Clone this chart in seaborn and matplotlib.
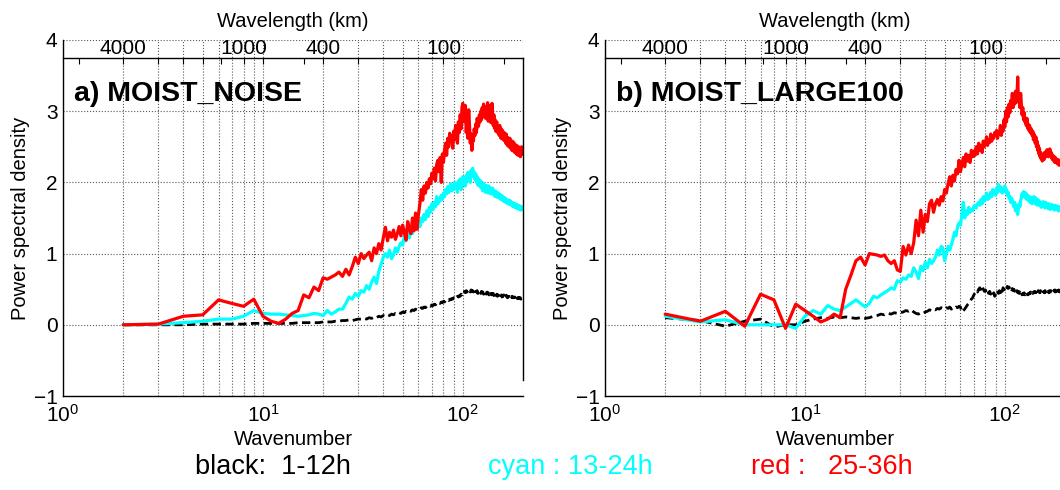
import matplotlib
matplotlib.use("Agg")
import matplotlib.pyplot as plt
import seaborn as sns
from matplotlib.ticker import FixedLocator, FixedFormatter, NullFormatter

# wavenumber 2..200
wavenumber = list(range(2, 201))

# a) MOIST_NOISE
a_black = [0.00, 0.00, 0.00, 0.01, 0.01, 0.01, 0.01, 0.02, 0.02,
           0.02, 0.02, 0.02, 0.02, 0.03, 0.03, 0.03, 0.03, 0.03, 0.04,
           0.04, 0.04, 0.05, 0.05, 0.06, 0.06, 0.07, 0.06, 0.07, 0.08,
           0.08, 0.09, 0.08, 0.10, 0.09, 0.11, 0.10, 0.12, 0.11, 0.13,
           0.12, 0.14, 0.13, 0.15, 0.14, 0.16, 0.15, 0.17, 0.16, 0.18,
           0.17, 0.19, 0.18, 0.20, 0.19, 0.21, 0.20, 0.22, 0.21, 0.23,
           0.22, 0.24, 0.23, 0.25, 0.24, 0.26, 0.25, 0.27, 0.26, 0.28,
           0.27, 0.29, 0.28, 0.30, 0.29, 0.31, 0.30, 0.32, 0.31, 0.33,
           0.32, 0.34, 0.33, 0.35, 0.34, 0.36, 0.35, 0.37, 0.36, 0.38,
           0.37, 0.39, 0.38, 0.40, 0.39, 0.41, 0.40, 0.43, 0.42, 0.45,
           0.44, 0.47, 0.45, 0.48, 0.46, 0.49, 0.47, 0.48, 0.46, 0.49,
           0.47, 0.48, 0.46, 0.49, 0.45, 0.47, 0.46, 0.48, 0.44, 0.47,
           0.45, 0.46, 0.44, 0.47, 0.45, 0.46, 0.43, 0.46, 0.44, 0.45,
           0.43, 0.46, 0.44, 0.45, 0.42, 0.45, 0.43, 0.44, 0.42, 0.44,
           0.43, 0.44, 0.41, 0.43, 0.42, 0.44, 0.41, 0.43, 0.40, 0.42,
           0.41, 0.43, 0.40, 0.42, 0.41, 0.42, 0.39, 0.41, 0.40, 0.42,
           0.40, 0.41, 0.39, 0.41, 0.40, 0.41, 0.38, 0.40, 0.39, 0.40,
           0.39, 0.40, 0.38, 0.40, 0.39, 0.40, 0.38, 0.39, 0.38, 0.39,
           0.38, 0.39, 0.37, 0.39, 0.38, 0.39, 0.37, 0.38, 0.37, 0.38,
           0.37, 0.38, 0.37, 0.38, 0.36, 0.38, 0.37, 0.37, 0.36, 0.37]
a_cyan = [0.00, 0.01, 0.03, 0.05, 0.08, 0.08, 0.12, 0.20, 0.16,
          0.15, 0.15, 0.14, 0.13, 0.12, 0.13, 0.14, 0.16, 0.15, 0.13,
          0.20, 0.15, 0.18, 0.22, 0.22, 0.30, 0.39, 0.36, 0.44, 0.40,
          0.48, 0.46, 0.55, 0.50, 0.60, 0.67, 0.58, 0.75, 0.85, 0.95,
          1.00, 0.95, 1.05, 0.93, 0.98, 1.08, 1.02, 1.10, 1.15, 1.12,
          1.25, 1.18, 1.30, 1.22, 1.35, 1.28, 1.43, 1.36, 1.40, 1.46,
          1.38, 1.50, 1.45, 1.55, 1.48, 1.60, 1.52, 1.65, 1.58, 1.70,
          1.62, 1.72, 1.66, 1.80, 1.70, 1.78, 1.74, 1.82, 1.76, 1.85,
          1.80, 1.90, 1.84, 1.94, 1.86, 1.92, 1.98, 1.88, 1.95, 1.90,
          2.00, 1.92, 1.98, 1.86, 2.02, 1.95, 2.05, 1.90, 2.00, 2.08,
          1.98, 2.06, 1.95, 2.10, 2.02, 2.14, 2.05, 2.12, 2.00, 2.17,
          2.10, 2.20, 2.08, 2.15, 2.04, 2.12, 2.00, 2.08, 1.96, 2.05,
          2.00, 1.94, 2.02, 1.92, 2.00, 1.88, 1.98, 1.90, 1.95, 1.86,
          1.96, 1.88, 1.93, 1.85, 1.95, 1.88, 1.92, 1.84, 1.90, 1.86,
          1.92, 1.83, 1.88, 1.85, 1.80, 1.88, 1.82, 1.86, 1.79, 1.84,
          1.85, 1.78, 1.83, 1.80, 1.76, 1.82, 1.78, 1.80, 1.74, 1.79,
          1.77, 1.73, 1.78, 1.75, 1.71, 1.76, 1.72, 1.74, 1.70, 1.75,
          1.73, 1.69, 1.74, 1.71, 1.68, 1.72, 1.67, 1.70, 1.66, 1.71,
          1.69, 1.65, 1.70, 1.67, 1.64, 1.69, 1.66, 1.68, 1.63, 1.67,
          1.66, 1.62, 1.67, 1.64, 1.61, 1.66, 1.63, 1.65, 1.62, 1.64]
a_red = [0.00, 0.01, 0.12, 0.14, 0.35, 0.30, 0.26, 0.36, 0.12,
         0.05, 0.02, 0.08, 0.16, 0.20, 0.42, 0.38, 0.53, 0.48, 0.66,
         0.64, 0.67, 0.70, 0.74, 0.68, 0.78, 0.70, 0.82, 0.95, 0.86,
         1.00, 0.93, 0.98, 1.02, 0.90, 1.08, 1.00, 1.14, 1.05, 1.22,
         1.37, 1.18, 1.30, 1.23, 1.33, 1.20, 1.28, 1.38, 1.25, 1.40,
         1.30, 1.19, 1.45, 1.35, 1.28, 1.50, 1.32, 1.57, 1.34, 1.55,
         1.70, 1.90, 1.75, 1.95, 1.85, 2.00, 1.92, 2.05, 1.98, 2.13,
         2.05, 2.20, 2.02, 2.25, 2.31, 2.15, 2.35, 2.00, 2.40, 2.28,
         2.45, 2.55, 2.38, 2.62, 2.50, 2.69, 2.58, 2.65, 2.48, 2.72,
         2.60, 2.80, 2.68, 2.55, 2.85, 2.70, 2.95, 2.75, 3.05, 3.11,
         2.85, 2.98, 3.08, 2.70, 2.90, 2.62, 3.02, 2.80, 2.55, 2.68,
         2.45, 2.62, 2.58, 2.75, 2.66, 2.82, 2.70, 2.90, 2.78, 2.80,
         2.95, 2.85, 3.00, 2.88, 3.05, 2.92, 3.10, 2.96, 3.06, 2.90,
         3.06, 2.95, 3.12, 2.86, 3.00, 2.92, 3.08, 2.84, 2.98, 3.11,
         2.90, 2.80, 2.95, 2.76, 2.88, 2.72, 2.82, 2.85, 2.70, 2.78,
         2.74, 2.66, 2.80, 2.70, 2.62, 2.75, 2.68, 2.73, 2.60, 2.66,
         2.70, 2.58, 2.64, 2.55, 2.68, 2.60, 2.52, 2.63, 2.58, 2.50,
         2.55, 2.62, 2.48, 2.57, 2.52, 2.45, 2.58, 2.50, 2.44, 2.56,
         2.49, 2.42, 2.53, 2.46, 2.40, 2.52, 2.44, 2.48, 2.38, 2.50,
         2.45, 2.40, 2.47, 2.36, 2.44, 2.41, 2.50, 2.39, 2.45, 2.40]

# b) MOIST_LARGE100
b_black = [0.10, 0.06, -0.02, 0.05, 0.08, -0.03, 0.00, 0.00, 0.05,
           0.08, 0.10, 0.09, 0.11, 0.10, 0.11, 0.10, 0.09, 0.10, 0.09,
           0.10, 0.12, 0.13, 0.15, 0.14, 0.16, 0.15, 0.17, 0.16, 0.17,
           0.18, 0.20, 0.19, 0.21, 0.18, 0.16, 0.15, 0.17, 0.16, 0.18,
           0.19, 0.21, 0.20, 0.22, 0.21, 0.23, 0.22, 0.24, 0.23, 0.22,
           0.24, 0.23, 0.25, 0.22, 0.24, 0.23, 0.25, 0.24, 0.26, 0.25,
           0.18, 0.20, 0.22, 0.25, 0.28, 0.30, 0.33, 0.36, 0.38, 0.42,
           0.45, 0.48, 0.46, 0.50, 0.52, 0.48, 0.53, 0.50, 0.47, 0.49,
           0.45, 0.48, 0.44, 0.47, 0.43, 0.46, 0.42, 0.45, 0.40, 0.44,
           0.42, 0.46, 0.44, 0.48, 0.45, 0.50, 0.47, 0.52, 0.49, 0.51,
           0.53, 0.50, 0.54, 0.51, 0.53, 0.50, 0.52, 0.49, 0.51, 0.48,
           0.50, 0.47, 0.49, 0.46, 0.48, 0.45, 0.47, 0.44, 0.46, 0.43,
           0.45, 0.42, 0.44, 0.43, 0.45, 0.42, 0.44, 0.43, 0.45, 0.42,
           0.44, 0.43, 0.45, 0.44, 0.46, 0.43, 0.45, 0.44, 0.46, 0.45,
           0.47, 0.45, 0.46, 0.44, 0.47, 0.45, 0.48, 0.46, 0.47, 0.45,
           0.48, 0.46, 0.47, 0.46, 0.48, 0.46, 0.47, 0.45, 0.48, 0.46,
           0.47, 0.46, 0.48, 0.46, 0.47, 0.45, 0.48, 0.47, 0.46, 0.48,
           0.47, 0.46, 0.48, 0.47, 0.46, 0.48, 0.47, 0.49, 0.46, 0.48,
           0.47, 0.49, 0.46, 0.48, 0.47, 0.49, 0.47, 0.48, 0.46, 0.48,
           0.47, 0.49, 0.47, 0.48, 0.46, 0.48, 0.47, 0.49, 0.47, 0.48]
b_cyan = [0.12, 0.04, 0.07, 0.00, 0.00, 0.00, 0.00, -0.05, 0.12,
          0.20, 0.15, 0.27, 0.22, 0.20, 0.25, 0.30, 0.35, 0.30, 0.25,
          0.30, 0.40, 0.38, 0.42, 0.45, 0.48, 0.52, 0.50, 0.62, 0.60,
          0.66, 0.64, 0.70, 0.68, 0.80, 0.74, 0.65, 0.82, 0.76, 0.88,
          0.80, 0.92, 0.86, 0.90, 0.95, 1.05, 0.98, 1.10, 1.08, 0.90,
          1.00, 1.10, 1.05, 1.12, 1.20, 1.30, 1.25, 1.38, 1.43, 1.40,
          1.55, 1.72, 1.50, 1.60, 1.55, 1.65, 1.58, 1.62, 1.60, 1.66,
          1.68, 1.64, 1.70, 1.72, 1.68, 1.76, 1.70, 1.80, 1.74, 1.78,
          1.85, 1.76, 1.82, 1.78, 1.86, 1.80, 1.90, 1.84, 1.88, 1.82,
          1.92, 1.86, 1.97, 1.88, 1.94, 1.90, 1.85, 1.92, 1.88, 1.95,
          1.86, 1.90, 1.82, 1.86, 1.78, 1.80, 1.72, 1.78, 1.75, 1.70,
          1.66, 1.72, 1.60, 1.68, 1.62, 1.55, 1.64, 1.70, 1.66, 1.75,
          1.78, 1.84, 1.80, 1.87, 1.82, 1.86, 1.78, 1.84, 1.76, 1.82,
          1.78, 1.74, 1.80, 1.72, 1.79, 1.75, 1.70, 1.78, 1.73, 1.80,
          1.76, 1.70, 1.78, 1.74, 1.68, 1.76, 1.71, 1.74, 1.68, 1.72,
          1.70, 1.65, 1.72, 1.68, 1.66, 1.73, 1.67, 1.70, 1.64, 1.72,
          1.68, 1.70, 1.65, 1.69, 1.63, 1.70, 1.66, 1.68, 1.62, 1.67,
          1.65, 1.69, 1.63, 1.67, 1.64, 1.66, 1.61, 1.68, 1.64, 1.66,
          1.63, 1.67, 1.62, 1.65, 1.60, 1.66, 1.62, 1.64, 1.61, 1.65,
          1.62, 1.64, 1.60, 1.63, 1.61, 1.64, 1.60, 1.62, 1.59, 1.62]
b_red = [0.15, 0.05, 0.19, -0.02, 0.43, 0.35, -0.05, 0.29, 0.20,
         0.12, 0.04, 0.08, 0.15, 0.10, 0.50, 0.70, 0.90, 0.95, 0.84,
         1.00, 0.99, 0.98, 0.96, 0.98, 0.90, 0.86, 0.90, 0.77, 0.75,
         1.10, 0.98, 1.12, 1.00, 1.15, 1.47, 1.25, 1.61, 1.30, 1.55,
         1.45, 1.70, 1.75, 1.58, 1.70, 1.76, 1.68, 1.80, 1.74, 1.90,
         1.85, 1.98, 2.08, 1.95, 2.10, 2.02, 2.18, 2.12, 2.31, 2.15,
         2.25, 2.35, 2.22, 2.40, 2.30, 2.38, 2.28, 2.45, 2.36, 2.44,
         2.38, 2.50, 2.40, 2.55, 2.45, 2.52, 2.42, 2.58, 2.50, 2.55,
         2.64, 2.52, 2.60, 2.56, 2.68, 2.58, 2.65, 2.62, 2.70, 2.66,
         2.73, 2.62, 2.70, 2.68, 2.80, 2.66, 2.75, 2.72, 2.88, 2.78,
         3.00, 2.85, 3.05, 2.92, 3.10, 2.98, 3.15, 3.08, 3.25, 3.05,
         3.18, 3.10, 3.28, 3.12, 3.20, 3.48, 3.15, 3.22, 3.05, 3.25,
         3.10, 2.95, 3.05, 2.88, 2.98, 2.85, 2.87, 2.80, 2.90, 2.76,
         2.82, 2.73, 2.80, 2.70, 2.76, 2.73, 2.66, 2.72, 2.60, 2.68,
         2.62, 2.55, 2.64, 2.50, 2.58, 2.45, 2.52, 2.40, 2.48, 2.36,
         2.42, 2.33, 2.40, 2.30, 2.36, 2.38, 2.32, 2.42, 2.35, 2.40,
         2.44, 2.38, 2.46, 2.40, 2.36, 2.45, 2.42, 2.47, 2.38, 2.43,
         2.35, 2.40, 2.32, 2.38, 2.34, 2.30, 2.36, 2.28, 2.35, 2.30,
         2.33, 2.27, 2.31, 2.26, 2.32, 2.28, 2.24, 2.30, 2.26, 2.28,
         2.25, 2.29, 2.23, 2.27, 2.24, 2.22, 2.26, 2.21, 2.24, 2.22]

# top axis: wavelength (km) = 8000 / wavenumber
top_ticks = [2, 8, 20, 80]
top_labels = ["4000", "1000", "400", "100"]
top_minor = [1.2, 3, 4, 5, 6.2, 10, 16, 30, 160]

sns.set_theme(style="white")
plt.rcParams["font.family"] = ["Liberation Sans", "DejaVu Sans"]
plt.rcParams["mathtext.fontset"] = "custom"
plt.rcParams["mathtext.rm"] = "Liberation Sans"
plt.rcParams["text.color"] = "black"
plt.rcParams["axes.labelcolor"] = "black"
plt.rcParams["xtick.color"] = "black"
plt.rcParams["ytick.color"] = "black"

W, H = 1060, 490
fig = plt.figure(figsize=(W / 100, H / 100), dpi=100)
fig.patch.set_facecolor("white")


def panel(left, title, black, cyan, red):
    ax = fig.add_axes([left / W, (H - 396) / H, 460 / W, 356 / H])
    sns.lineplot(x=wavenumber, y=black, ax=ax, color="black", lw=2.0, linestyle="--")
    ax.lines[-1].set_dashes([3, 1.6])
    sns.lineplot(x=wavenumber, y=cyan, ax=ax, color="#00ffff", lw=2.3)
    sns.lineplot(x=wavenumber, y=red, ax=ax, color="#ff0000", lw=2.3)
    ax.set_xscale("log")
    ax.set_xlim(1, 200)
    ax.set_ylim(-1, 4)
    ax.set_yticks([-1, 0, 1, 2, 3, 4])
    ax.grid(True, which="both", axis="x", ls=":", color="0.35", lw=0.8)
    ax.grid(True, which="major", axis="y", ls=":", color="0.35", lw=0.8)
    for s in ["top", "right"]:
        ax.spines[s].set_visible(False)
    for s in ["left", "bottom"]:
        ax.spines[s].set_color("black")
        ax.spines[s].set_linewidth(1.0)
    ax.tick_params(which="both", direction="in", top=False, right=False,
                   labelsize=15, colors="black")
    ax.tick_params(which="major", length=5, width=0.8)
    ax.tick_params(which="minor", length=3, width=0.8)
    ax.tick_params(axis="x", pad=6)
    ax.tick_params(axis="y", pad=4)
    ax.set_xlabel("Wavenumber", fontsize=14.5, color="black")
    ax.set_ylabel("Power spectral density", fontsize=14.5, color="black")
    ax.xaxis.set_label_coords(0.5, -0.095)
    ax.yaxis.set_label_coords(-0.072, 0.5)
    ax.text(0.024, 0.848, title, transform=ax.transAxes, fontsize=20.5,
            fontweight="bold", va="center", ha="left", color="black")

    axt = fig.add_axes([left / W, (H - 380) / H, 460 / W, 322 / H])
    axt.patch.set_visible(False)
    axt.set_xscale("log")
    axt.set_xlim(1, 200)
    axt.set_yticks([])
    axt.grid(False)
    for s in ["left", "bottom"]:
        axt.spines[s].set_visible(False)
    for s in ["top", "right"]:
        axt.spines[s].set_color("black")
        axt.spines[s].set_linewidth(1.0)
    axt.xaxis.tick_top()
    axt.xaxis.set_major_locator(FixedLocator(top_ticks))
    axt.xaxis.set_major_formatter(FixedFormatter(top_labels))
    axt.xaxis.set_minor_locator(FixedLocator(top_minor))
    axt.xaxis.set_minor_formatter(NullFormatter())
    axt.tick_params(which="both", direction="in", length=4, width=0.8,
                    labelsize=15, pad=0, colors="black")
    axt.xaxis.set_label_position("top")
    axt.set_xlabel("Wavelength (km)", fontsize=14.5, color="black")
    axt.xaxis.set_label_coords(0.5, 1.095)
    return ax


panel(63, "a) MOIST_NOISE", a_black, a_cyan, a_red)
panel(605, "b) MOIST_LARGE100", b_black, b_cyan, b_red)

fig.text(195 / W, 1 - 467 / H, "black:  1-12h", fontsize=19.5, color="black",
         ha="left", va="center")
fig.text(488 / W, 1 - 467 / H, "cyan : 13-24h", fontsize=19.5, color="#00ffff",
         ha="left", va="center")
fig.text(751 / W, 1 - 467 / H, "red :   25-36h", fontsize=19.5, color="#ff0000",
         ha="left", va="center")

fig.savefig("out.png", dpi=100)
